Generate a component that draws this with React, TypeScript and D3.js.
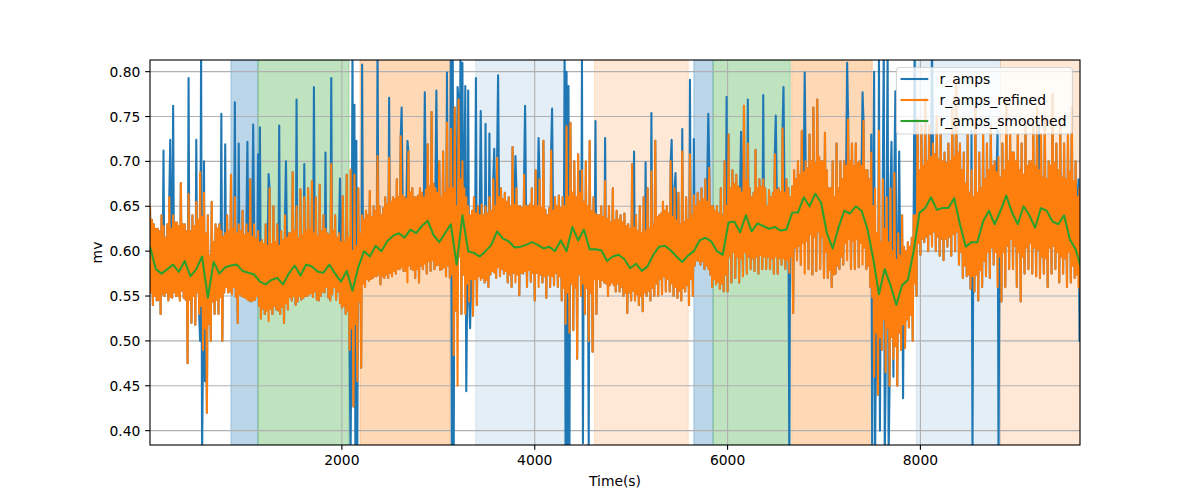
import React from 'react';
import * as d3 from 'd3';

// ---------- data ----------
const timeStart = 10;
const timeEnd = 9655;
const yMin = 0.384;
const yMax = 0.813;
const smoothStep = 60; // seconds between smoothed samples
const refinedStep = 40; // seconds between refined samples (peak, core low, core high, trough)

const xTicks = [2000, 4000, 6000, 8000];
const yTicks = [0.4, 0.45, 0.5, 0.55, 0.6, 0.65, 0.7, 0.75, 0.8];
const seriesNames = ['r_amps', 'r_amps_refined', 'r_amps_smoothed'];

const spanStarts = [849, 1130, 2188, 3387, 4620, 5650, 5850, 6665, 7958, 8830];
const spanEnds = [1130, 2074, 3122, 4310, 5592, 5850, 6650, 7500, 8830, 9655];
const spanKinds = ['blue', 'green', 'orange', 'lightblue', 'lightorange', 'blue', 'green', 'orange', 'lightblue', 'lightorange'];

const smoothedValues = [
  0.605, 0.580, 0.575, 0.580, 0.585, 0.577, 0.589, 0.572, 0.580, 0.594,
  0.548, 0.588, 0.575, 0.582, 0.584, 0.585, 0.578, 0.576, 0.574, 0.566,
  0.563, 0.568, 0.570, 0.563, 0.575, 0.584, 0.573, 0.585, 0.583, 0.577,
  0.576, 0.585, 0.575, 0.566, 0.578, 0.556, 0.582, 0.600, 0.594, 0.606,
  0.600, 0.611, 0.617, 0.620, 0.615, 0.624, 0.620, 0.628, 0.634, 0.618,
  0.610, 0.620, 0.630, 0.585, 0.640, 0.600, 0.598, 0.594, 0.600, 0.607,
  0.622, 0.614, 0.611, 0.604, 0.605, 0.607, 0.610, 0.607, 0.603, 0.605,
  0.600, 0.612, 0.600, 0.627, 0.612, 0.624, 0.602, 0.602, 0.601, 0.589,
  0.594, 0.596, 0.591, 0.581, 0.586, 0.578, 0.583, 0.596, 0.605, 0.606,
  0.601, 0.594, 0.588, 0.595, 0.600, 0.612, 0.615, 0.611, 0.600, 0.596,
  0.632, 0.633, 0.621, 0.640, 0.622, 0.631, 0.628, 0.625, 0.627, 0.623,
  0.624, 0.643, 0.643, 0.660, 0.650, 0.664, 0.654, 0.620, 0.603, 0.626,
  0.645, 0.642, 0.650, 0.645, 0.625, 0.592, 0.552, 0.580, 0.562, 0.540,
  0.562, 0.568, 0.600, 0.643, 0.648, 0.660, 0.646, 0.648, 0.648, 0.659,
  0.630, 0.605, 0.610, 0.610, 0.633, 0.645, 0.630, 0.645, 0.662, 0.643,
  0.630, 0.650, 0.640, 0.626, 0.648, 0.645, 0.633, 0.630, 0.640, 0.613,
  0.602, 0.580,
];

// per 40 s window of r_amps_refined: highest peak, lowest trough, and the dense core band edges
const refinedHigh = [
  0.650, 0.630, 0.625, 0.640, 0.615, 0.660, 0.640, 0.632, 0.676, 0.630,
  0.664, 0.640, 0.655, 0.688, 0.665, 0.640, 0.655, 0.630, 0.630, 0.616,
  0.640, 0.685, 0.660, 0.630, 0.645, 0.630, 0.680, 0.630, 0.622, 0.612,
  0.630, 0.670, 0.650, 0.630, 0.622, 0.640, 0.620, 0.688, 0.650, 0.669,
  0.660, 0.670, 0.678, 0.660, 0.674, 0.640, 0.620, 0.697, 0.640, 0.620,
  0.661, 0.685, 0.691, 0.685, 0.670, 0.640, 0.645, 0.667, 0.650, 0.706,
  0.640, 0.660, 0.704, 0.660, 0.680, 0.728, 0.660, 0.711, 0.670, 0.660,
  0.670, 0.660, 0.719, 0.755, 0.670, 0.700, 0.711, 0.743, 0.736, 0.760,
  0.769, 0.700, 0.660, 0.640, 0.660, 0.650, 0.652, 0.650, 0.660, 0.680,
  0.704, 0.670, 0.665, 0.660, 0.716, 0.670, 0.650, 0.685, 0.650, 0.670,
  0.690, 0.680, 0.723, 0.640, 0.712, 0.660, 0.662, 0.660, 0.739, 0.743,
  0.700, 0.708, 0.690, 0.700, 0.723, 0.660, 0.640, 0.650, 0.678, 0.650,
  0.670, 0.645, 0.640, 0.642, 0.630, 0.697, 0.640, 0.650, 0.660, 0.670,
  0.689, 0.723, 0.640, 0.655, 0.650, 0.700, 0.670, 0.665, 0.711, 0.660,
  0.708, 0.662, 0.665, 0.670, 0.680, 0.693, 0.650, 0.650, 0.670, 0.700,
  0.730, 0.690, 0.685, 0.670, 0.762, 0.720, 0.660, 0.713, 0.680, 0.680,
  0.650, 0.660, 0.708, 0.670, 0.737, 0.680, 0.660, 0.690, 0.700, 0.734,
  0.700, 0.730, 0.760, 0.769, 0.700, 0.732, 0.670, 0.700, 0.720, 0.700,
  0.700, 0.747, 0.720, 0.720, 0.700, 0.745, 0.690, 0.710, 0.670, 0.734,
  0.680, 0.660, 0.670, 0.687, 0.620, 0.640, 0.600, 0.605, 0.640, 0.747,
  0.740, 0.770, 0.740, 0.720, 0.750, 0.730, 0.710, 0.720, 0.760, 0.791,
  0.720, 0.710, 0.730, 0.690, 0.760, 0.710, 0.730, 0.720, 0.740, 0.700,
  0.705, 0.720, 0.770, 0.730, 0.710, 0.730, 0.720, 0.740, 0.700, 0.740,
  0.760, 0.730, 0.750, 0.700, 0.775, 0.720, 0.740, 0.720, 0.730, 0.760,
  0.700, 0.670,
];

const refinedLow = [
  0.540, 0.545, 0.530, 0.550, 0.545, 0.548, 0.550, 0.545, 0.548, 0.475,
  0.520, 0.518, 0.530, 0.490, 0.420, 0.500, 0.530, 0.530, 0.500, 0.560,
  0.555, 0.560, 0.520, 0.550, 0.548, 0.545, 0.545, 0.550, 0.525, 0.530,
  0.522, 0.530, 0.535, 0.530, 0.520, 0.535, 0.545, 0.540, 0.550, 0.548,
  0.550, 0.553, 0.555, 0.545, 0.555, 0.560, 0.545, 0.560, 0.555, 0.537,
  0.530, 0.490, 0.427, 0.455, 0.470, 0.560, 0.567, 0.570, 0.572, 0.563,
  0.570, 0.570, 0.572, 0.575, 0.580, 0.578, 0.565, 0.580, 0.570, 0.565,
  0.580, 0.575, 0.578, 0.580, 0.585, 0.580, 0.572, 0.570, 0.484, 0.450,
  0.530, 0.530, 0.544, 0.528, 0.540, 0.568, 0.565, 0.560, 0.578, 0.570,
  0.572, 0.575, 0.565, 0.560, 0.565, 0.551, 0.575, 0.560, 0.566, 0.545,
  0.560, 0.565, 0.548, 0.560, 0.562, 0.560, 0.545, 0.519, 0.509, 0.512,
  0.480, 0.550, 0.530, 0.500, 0.488, 0.530, 0.560, 0.565, 0.550, 0.565,
  0.555, 0.555, 0.550, 0.531, 0.545, 0.545, 0.540, 0.533, 0.550, 0.545,
  0.550, 0.550, 0.552, 0.555, 0.555, 0.550, 0.548, 0.545, 0.555, 0.540,
  0.550, 0.590, 0.585, 0.580, 0.580, 0.560, 0.563, 0.558, 0.555, 0.555,
  0.565, 0.570, 0.565, 0.572, 0.575, 0.580, 0.578, 0.575, 0.580, 0.580,
  0.580, 0.575, 0.575, 0.585, 0.580, 0.576, 0.531, 0.590, 0.585, 0.575,
  0.580, 0.574, 0.578, 0.580, 0.570, 0.570, 0.560, 0.575, 0.580, 0.585,
  0.590, 0.580, 0.580, 0.582, 0.585, 0.580, 0.560, 0.460, 0.440, 0.490,
  0.465, 0.450, 0.480, 0.450, 0.490, 0.492, 0.515, 0.500, 0.550, 0.596,
  0.610, 0.600, 0.605, 0.600, 0.595, 0.590, 0.605, 0.595, 0.600, 0.585,
  0.570, 0.572, 0.558, 0.555, 0.545, 0.560, 0.572, 0.570, 0.585, 0.560,
  0.544, 0.560, 0.580, 0.580, 0.560, 0.544, 0.575, 0.580, 0.575, 0.572,
  0.570, 0.575, 0.560, 0.575, 0.580, 0.565, 0.575, 0.560, 0.565, 0.570,
  0.560, 0.500,
];

const refinedCoreHigh = [
  0.635, 0.625, 0.622, 0.628, 0.630, 0.625, 0.632, 0.628, 0.630, 0.622,
  0.622, 0.628, 0.635, 0.638, 0.620, 0.595, 0.610, 0.625, 0.622, 0.620,
  0.622, 0.625, 0.620, 0.622, 0.618, 0.620, 0.616, 0.614, 0.610, 0.608,
  0.606, 0.608, 0.610, 0.606, 0.612, 0.615, 0.620, 0.622, 0.614, 0.618,
  0.622, 0.624, 0.620, 0.616, 0.622, 0.625, 0.618, 0.622, 0.615, 0.610,
  0.610, 0.615, 0.600, 0.605, 0.620, 0.635, 0.640, 0.638, 0.645, 0.650,
  0.648, 0.652, 0.655, 0.658, 0.660, 0.662, 0.658, 0.665, 0.660, 0.662,
  0.665, 0.668, 0.672, 0.675, 0.665, 0.660, 0.665, 0.670, 0.670, 0.650,
  0.680, 0.670, 0.650, 0.645, 0.642, 0.640, 0.640, 0.642, 0.645, 0.650,
  0.660, 0.658, 0.655, 0.650, 0.652, 0.650, 0.648, 0.650, 0.652, 0.650,
  0.650, 0.648, 0.646, 0.648, 0.645, 0.650, 0.648, 0.650, 0.660, 0.665,
  0.660, 0.665, 0.655, 0.650, 0.645, 0.642, 0.640, 0.638, 0.636, 0.632,
  0.634, 0.635, 0.632, 0.628, 0.625, 0.626, 0.622, 0.620, 0.622, 0.625,
  0.630, 0.638, 0.642, 0.645, 0.642, 0.638, 0.634, 0.630, 0.632, 0.635,
  0.640, 0.650, 0.655, 0.658, 0.655, 0.650, 0.645, 0.642, 0.640, 0.650,
  0.670, 0.675, 0.672, 0.665, 0.678, 0.670, 0.665, 0.670, 0.672, 0.670,
  0.668, 0.665, 0.668, 0.666, 0.665, 0.670, 0.672, 0.680, 0.685, 0.688,
  0.692, 0.700, 0.698, 0.705, 0.700, 0.690, 0.670, 0.660, 0.670, 0.680,
  0.695, 0.700, 0.695, 0.698, 0.695, 0.690, 0.680, 0.650, 0.620, 0.610,
  0.625, 0.610, 0.600, 0.590, 0.595, 0.605, 0.610, 0.615, 0.640, 0.690,
  0.695, 0.700, 0.705, 0.708, 0.702, 0.700, 0.698, 0.700, 0.705, 0.710,
  0.690, 0.675, 0.665, 0.660, 0.665, 0.670, 0.680, 0.690, 0.695, 0.688,
  0.682, 0.690, 0.700, 0.710, 0.700, 0.690, 0.685, 0.695, 0.700, 0.695,
  0.690, 0.682, 0.680, 0.695, 0.698, 0.690, 0.682, 0.680, 0.688, 0.678,
  0.660, 0.635,
];

const refinedCoreLow = [
  0.554, 0.550, 0.546, 0.552, 0.554, 0.549, 0.554, 0.550, 0.556, 0.546,
  0.546, 0.550, 0.554, 0.539, 0.514, 0.519, 0.544, 0.546, 0.549, 0.554,
  0.554, 0.552, 0.549, 0.552, 0.549, 0.546, 0.544, 0.546, 0.539, 0.536,
  0.534, 0.536, 0.539, 0.534, 0.538, 0.542, 0.549, 0.550, 0.544, 0.546,
  0.550, 0.552, 0.549, 0.546, 0.550, 0.554, 0.548, 0.552, 0.546, 0.542,
  0.539, 0.534, 0.514, 0.519, 0.544, 0.564, 0.569, 0.569, 0.572, 0.574,
  0.572, 0.574, 0.576, 0.578, 0.580, 0.582, 0.578, 0.584, 0.579, 0.580,
  0.584, 0.586, 0.589, 0.590, 0.584, 0.579, 0.582, 0.584, 0.574, 0.534,
  0.594, 0.574, 0.564, 0.569, 0.569, 0.572, 0.570, 0.568, 0.574, 0.576,
  0.582, 0.580, 0.578, 0.574, 0.576, 0.574, 0.576, 0.578, 0.579, 0.576,
  0.576, 0.574, 0.572, 0.574, 0.572, 0.576, 0.572, 0.559, 0.554, 0.564,
  0.559, 0.574, 0.564, 0.559, 0.554, 0.569, 0.569, 0.568, 0.564, 0.562,
  0.562, 0.564, 0.560, 0.554, 0.554, 0.556, 0.552, 0.550, 0.554, 0.556,
  0.559, 0.564, 0.569, 0.572, 0.569, 0.564, 0.560, 0.556, 0.559, 0.562,
  0.569, 0.584, 0.589, 0.589, 0.584, 0.574, 0.569, 0.566, 0.564, 0.574,
  0.594, 0.599, 0.594, 0.592, 0.599, 0.594, 0.592, 0.594, 0.596, 0.594,
  0.594, 0.592, 0.594, 0.592, 0.592, 0.590, 0.594, 0.604, 0.606, 0.609,
  0.612, 0.619, 0.616, 0.622, 0.616, 0.599, 0.579, 0.574, 0.584, 0.594,
  0.609, 0.614, 0.612, 0.614, 0.609, 0.604, 0.584, 0.549, 0.509, 0.504,
  0.524, 0.514, 0.504, 0.494, 0.509, 0.519, 0.524, 0.529, 0.564, 0.609,
  0.614, 0.616, 0.619, 0.622, 0.616, 0.614, 0.614, 0.616, 0.619, 0.622,
  0.599, 0.584, 0.574, 0.572, 0.574, 0.579, 0.589, 0.599, 0.604, 0.599,
  0.594, 0.599, 0.606, 0.614, 0.606, 0.599, 0.594, 0.604, 0.609, 0.604,
  0.602, 0.594, 0.592, 0.604, 0.606, 0.599, 0.594, 0.592, 0.599, 0.584,
  0.574, 0.554,
];

// outliers of r_amps that were removed in r_amps_refined: [time, value]
const ampSpikes: [number, number][] = [
  [145, 0.712], [218, 0.724], [252, 0.762], [414, 0.793], [490, 0.724],
  [525, 0.5], [535, 0.83], [545, 0.37], [570, 0.7], [577, 0.455],
  [746, 0.753], [791, 0.719], [885, 0.766], [933, 0.72], [1023, 0.722],
  [1078, 0.741], [1127, 0.708], [1154, 0.738], [1241, 0.686], [1351, 0.74],
  [1420, 0.7], [1531, 0.769], [1614, 0.697], [1707, 0.783], [1832, 0.71],
  [1891, 0.793], [1977, 0.681], [2085, 0.37], [2110, 0.83], [2125, 0.763],
  [2135, 0.37], [2150, 0.723], [2160, 0.37], [2212, 0.808], [2367, 0.83],
  [2488, 0.771], [2616, 0.76], [2679, 0.723], [2862, 0.777], [2983, 0.779],
  [3086, 0.799], [3128, 0.83], [3135, 0.37], [3148, 0.83], [3155, 0.37],
  [3197, 0.783], [3225, 0.83], [3249, 0.81], [3283, 0.784], [3290, 0.444],
  [3308, 0.779], [3325, 0.514], [3387, 0.793], [3439, 0.756], [3494, 0.742],
  [3532, 0.731], [3584, 0.714], [3622, 0.796], [3795, 0.706], [3899, 0.762],
  [4044, 0.726], [4182, 0.759], [4314, 0.83], [4322, 0.37], [4330, 0.8],
  [4340, 0.37], [4352, 0.784], [4360, 0.37], [4469, 0.689], [4494, 0.812],
  [4502, 0.386], [4532, 0.699], [4556, 0.38], [4625, 0.745], [4728, 0.726],
  [5030, 0.711], [5154, 0.699], [5213, 0.754], [5423, 0.724], [5461, 0.687],
  [5527, 0.736], [5607, 0.791], [5648, 0.725], [5790, 0.685], [5804, 0.753],
  [5990, 0.772], [6139, 0.733], [6205, 0.769], [6374, 0.774], [6502, 0.751],
  [6581, 0.783], [6640, 0.37], [6796, 0.799], [7238, 0.81], [7401, 0.777],
  [7490, 0.73], [7500, 0.37], [7520, 0.8], [7530, 0.37], [7574, 0.83],
  [7584, 0.4], [7615, 0.83], [7625, 0.37], [7660, 0.83], [7670, 0.37],
  [7695, 0.722], [7719, 0.46], [7740, 0.778], [7781, 0.711], [7823, 0.436],
  [7940, 0.83], [8120, 0.83], [8530, 0.734], [8540, 0.37], [8800, 0.734],
  [8810, 0.37], [9226, 0.741], [9640, 0.68], [9650, 0.5],
];

// ---------- styles ----------
const spanStyle: Record<string, { color: string; alpha: number }> = {
  blue: { color: '#1f77b4', alpha: 0.3 },
  green: { color: '#2ca02c', alpha: 0.3 },
  orange: { color: '#ff7f0e', alpha: 0.3 },
  lightblue: { color: '#1f77b4', alpha: 0.12 },
  lightorange: { color: '#ff7f0e', alpha: 0.17 },
};
const seriesColors = ['#1f77b4', '#ff7f0e', '#2ca02c'];
const FONT = 'DejaVu Sans, sans-serif';
const FS = 13.89;

export default function App() {
  const W = 1200;
  const H = 500;
  const L = 150, R = 1080, T = 60, B = 445;
  const x = d3.scaleLinear().domain([timeStart, timeEnd]).range([L, R]);
  const y = d3.scaleLinear().domain([yMin, yMax]).range([B, T]);

  // r_amps_refined: within each window peak -> core low -> core high -> trough
  const q = refinedStep / 4;
  const refinedPts: [number, number][] = [];
  refinedHigh.forEach((h, j) => {
    const t = timeStart + j * refinedStep;
    refinedPts.push([t, h]);
    refinedPts.push([t + q, refinedCoreLow[j]]);
    refinedPts.push([t + 2 * q, refinedCoreHigh[j]]);
    refinedPts.push([t + 3 * q, refinedLow[j]]);
  });

  // r_amps: the refined signal with its outliers put back
  const ampPts: [number, number][] = refinedPts.map((p) => [p[0], p[1]]);
  const bis = d3.bisector((p: [number, number]) => p[0]).center;
  ampSpikes.forEach(([t, v]) => {
    const k = bis(ampPts, t);
    ampPts[k] = [ampPts[k][0], v];
  });

  const smoothPts: [number, number][] = smoothedValues.map((v, i) => [timeStart + i * smoothStep, v]);

  const line = d3
    .line<[number, number]>()
    .x((d) => x(d[0]))
    .y((d) => y(d[1]));

  const legendX = 896.5;
  const legendY = 67.5;

  return (
    <svg
      width={W}
      height={H}
      viewBox={`0 0 ${W} ${H}`}
      style={{ position: 'absolute', left: 0, top: 0, background: '#fff' }}
    >
      <defs>
        <clipPath id="plotclip">
          <rect x={L} y={T} width={R - L} height={B - T} />
        </clipPath>
      </defs>
      <rect x={0} y={0} width={W} height={H} fill="#fff" />
      {/* spans */}
      <g clipPath="url(#plotclip)">
        {spanStarts.map((s, i) => {
          const st = spanStyle[spanKinds[i]];
          return (
            <rect
              key={i}
              x={x(s)}
              y={T}
              width={x(spanEnds[i]) - x(s)}
              height={B - T}
              fill={st.color}
              fillOpacity={st.alpha}
              stroke={st.color}
              strokeOpacity={st.alpha}
              strokeWidth={1}
            />
          );
        })}
      </g>
      {/* grid */}
      <g stroke="#b0b0b0" strokeWidth={0.8 * 1.389}>
        {xTicks.map((t) => (
          <line key={'gx' + t} x1={x(t)} x2={x(t)} y1={T} y2={B} />
        ))}
        {yTicks.map((t) => (
          <line key={'gy' + t} x1={L} x2={R} y1={y(t)} y2={y(t)} />
        ))}
      </g>
      {/* series */}
      <g clipPath="url(#plotclip)" fill="none" strokeWidth={2.08} strokeLinejoin="round">
        <path d={line(ampPts) || ''} stroke={seriesColors[0]} />
        <path d={line(refinedPts) || ''} stroke={seriesColors[1]} />
        <path d={line(smoothPts) || ''} stroke={seriesColors[2]} />
      </g>
      {/* spines */}
      <rect x={L} y={T} width={R - L} height={B - T} fill="none" stroke="#000" strokeWidth={1.11} />
      {/* ticks and labels */}
      <g fontFamily={FONT} fontSize={FS} fill="#000">
        {xTicks.map((t) => (
          <g key={'xt' + t}>
            <line x1={x(t)} x2={x(t)} y1={B} y2={B + 4.86} stroke="#000" strokeWidth={1.11} />
            <text x={x(t)} y={B + 9.7} textAnchor="middle" dominantBaseline="hanging">
              {d3.format('d')(t)}
            </text>
          </g>
        ))}
        {yTicks.map((t) => (
          <g key={'yt' + t}>
            <line x1={L - 4.86} x2={L} y1={y(t)} y2={y(t)} stroke="#000" strokeWidth={1.11} />
            <text x={L - 9.7} y={y(t)} textAnchor="end" dominantBaseline="central">
              {d3.format('.2f')(t)}
            </text>
          </g>
        ))}
        <text x={(L + R) / 2} y={481} textAnchor="middle" dominantBaseline="central">
          Time(s)
        </text>
        <text
          x={97}
          y={(T + B) / 2}
          textAnchor="middle"
          dominantBaseline="central"
          transform={`rotate(-90, 97, ${(T + B) / 2})`}
        >
          mv
        </text>
      </g>
      {/* legend */}
      <g fontFamily={FONT} fontSize={FS}>
        <rect
          x={legendX}
          y={legendY}
          width={176}
          height={66.5}
          rx={3}
          fill="#fff"
          fillOpacity={0.8}
          stroke="#cccccc"
          strokeOpacity={0.8}
          strokeWidth={1.1}
        />
        {seriesNames.map((n, i) => {
          const ly = 79 + i * 21;
          return (
            <g key={n}>
              <line x1={900.5} x2={928.3} y1={ly} y2={ly} stroke={seriesColors[i]} strokeWidth={2.08} />
              <text x={939.5} y={ly} dominantBaseline="central" fill="#000">
                {n}
              </text>
            </g>
          );
        })}
      </g>
    </svg>
  );
}
